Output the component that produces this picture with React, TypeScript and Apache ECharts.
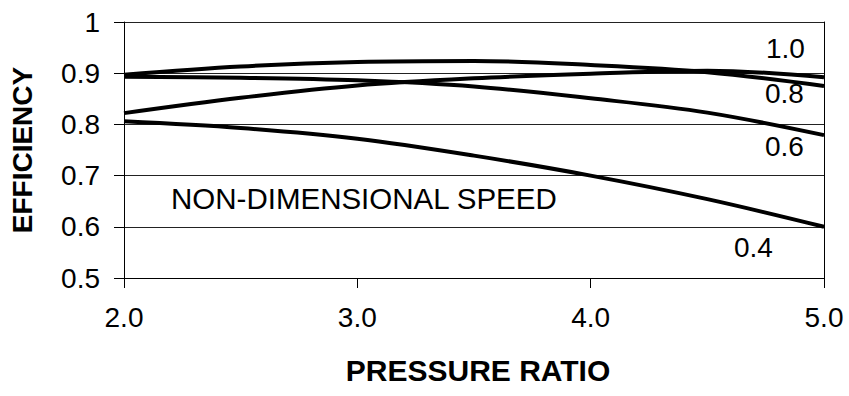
import React, { useEffect, useRef } from "react";
import * as echarts from "echarts";

const pressureRatio = [2.0, 2.5, 3.0, 3.5, 4.0, 4.5, 5.0];
const speed10 = [0.822, 0.852, 0.876, 0.89, 0.899, 0.905, 0.892];
const speed08 = [0.897, 0.913, 0.922, 0.924, 0.916, 0.902, 0.875];
const speed06 = [0.893, 0.891, 0.886, 0.874, 0.851, 0.823, 0.779];
const speed04 = [0.806, 0.793, 0.772, 0.739, 0.7, 0.654, 0.6];
const curveLabels = ["1.0", "0.8", "0.6", "0.4"];
const annotation = "NON-DIMENSIONAL SPEED";
const xTitle = "PRESSURE RATIO";
const yTitle = "EFFICIENCY";

const FONT = "'Liberation Sans', Arial, sans-serif";

export default function App() {
  const ref = useRef<HTMLDivElement>(null);
  useEffect(() => {
    if (!ref.current) return;
    const chart = echarts.init(ref.current, null, { renderer: "svg" });
    const mk = (name: string, vals: number[]) => ({
      name,
      type: "line",
      data: pressureRatio.map((p, i) => [p, vals[i]]),
      smooth: 0.35,
      showSymbol: false,
      symbol: "none",
      lineStyle: { color: "#000", width: 4 },
      z: 5,
    });
    const labelText = (text: string, x: number, y: number, size = 28) => ({
      type: "text",
      left: x,
      top: y,
      style: {
        text,
        fill: "#000",
        font: `${size}px ${FONT}`,
      },
      z: 10,
    });
    chart.setOption({
      animation: false,
      backgroundColor: "#fff",
      grid: { left: 123, right: 25, top: 22, bottom: 118 },
      xAxis: {
        type: "value",
        min: 2,
        max: 5,
        interval: 1,
        name: xTitle,
        nameLocation: "middle",
        nameGap: 77,
        nameTextStyle: {
          fontFamily: FONT,
          fontWeight: "bold",
          fontSize: 30,
          color: "#000",
          padding: [0, 0, 0, 8],
        },
        axisLine: { show: true, lineStyle: { color: "#000", width: 1 } },
        axisTick: { show: true, length: 10, inside: false, lineStyle: { color: "#000" } },
        axisLabel: {
          margin: 25,
          fontFamily: FONT,
          fontSize: 28,
          color: "#000",
          formatter: (v: number) => v.toFixed(1),
        },
        splitLine: { show: false },
      },
      yAxis: [
        {
          type: "value",
          min: 0.5,
          max: 1,
          interval: 0.1,
          name: yTitle,
          nameLocation: "middle",
          nameGap: 88,
          nameTextStyle: {
            fontFamily: FONT,
            fontWeight: "bold",
            fontSize: 28,
            color: "#000",
          },
          axisLine: { show: true, lineStyle: { color: "#000", width: 1 } },
          axisTick: { show: true, length: 10, lineStyle: { color: "#000" } },
          axisLabel: {
            margin: 24,
            fontFamily: FONT,
            fontSize: 28,
            color: "#000",
            formatter: (v: number) => (Math.abs(v - 1) < 1e-9 ? "1" : v.toFixed(1)),
          },
          splitLine: { show: true, lineStyle: { color: "#222", width: 1 } },
        },
        {
          type: "value",
          min: 0.5,
          max: 1,
          interval: 0.1,
          position: "right",
          axisLine: { show: true, lineStyle: { color: "#000", width: 1 } },
          axisTick: { show: false },
          axisLabel: { show: false },
          splitLine: { show: false },
        },
      ],
      series: [
        mk("1.0", speed10),
        mk("0.8", speed08),
        mk("0.6", speed06),
        mk("0.4", speed04),
      ],
      graphic: [
        labelText(curveLabels[0], 766, 34),
        labelText(curveLabels[1], 765, 79),
        labelText(curveLabels[2], 765, 132),
        labelText(curveLabels[3], 734, 233),
        labelText(annotation, 171, 183, 29.5),
      ],
    });
    return () => chart.dispose();
  }, []);
  return (
    <div
      ref={ref}
      style={{ position: "fixed", left: 0, top: 0, width: 849, height: 396, background: "#fff" }}
    />
  );
}
